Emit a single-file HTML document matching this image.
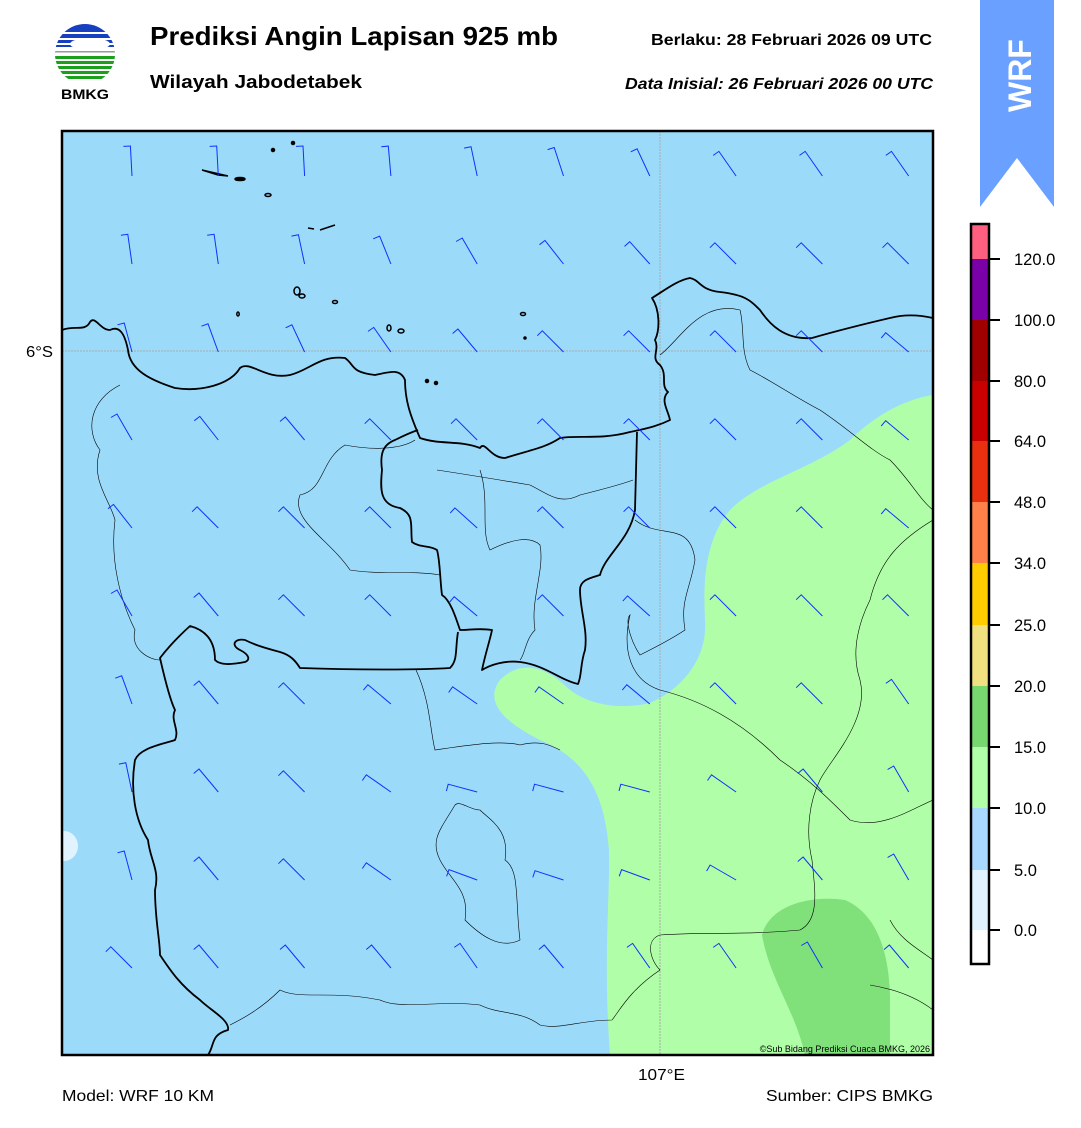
<!DOCTYPE html>
<html><head><meta charset="utf-8"><style>
body{margin:0;background:#fff;width:1081px;height:1128px;overflow:hidden;font-family:"Liberation Sans",Arial,sans-serif}
</style></head><body>
<svg width="1081" height="1128" style="position:absolute;left:0;top:0" xmlns="http://www.w3.org/2000/svg">
<defs><clipPath id="lc"><circle cx="85" cy="54" r="30"/></clipPath>
<clipPath id="mc"><rect x="62" y="131" width="871" height="924"/></clipPath></defs>
<g clip-path="url(#lc)">
<rect x="55" y="24" width="60" height="8" fill="#1740c0"/>
<rect x="55" y="34" width="60" height="4" fill="#1740c0"/>
<rect x="55" y="40" width="60" height="3" fill="#1740c0"/>
<rect x="55" y="45" width="60" height="2" fill="#1740c0"/>
<ellipse cx="90" cy="44" rx="20" ry="6" fill="#fff"/>
<rect x="55" y="51" width="60" height="1.5" fill="#999"/>
<rect x="55" y="56" width="60" height="3" fill="#1aa01a"/>
<rect x="55" y="61" width="60" height="3" fill="#1aa01a"/>
<rect x="55" y="66" width="60" height="3" fill="#1aa01a"/>
<rect x="55" y="71" width="60" height="3" fill="#1aa01a"/>
<rect x="55" y="76" width="60" height="3" fill="#1aa01a"/>
</g>
<text x="61" y="99" font-size="14" font-weight="bold" font-family="Liberation Sans,sans-serif" textLength="48" lengthAdjust="spacingAndGlyphs">BMKG</text>
<polygon points="980,0 1054,0 1054,207 1017,158 980,207" fill="#6aa0ff"/>
<text x="0" y="0" transform="translate(1031,112) rotate(-90)" font-size="32" font-weight="bold" fill="#fff" font-family="Liberation Sans,sans-serif">WRF</text>
<g clip-path="url(#mc)">
<rect x="62" y="131" width="871" height="924" fill="#9cdafa"/>
<path d="M933,395 C900,400 870,420 850,440 C810,470 760,480 730,510 C705,540 703,580 705,620 C708,660 680,690 650,703 C620,710 590,705 570,690 C545,665 520,660 500,680 C485,700 500,720 540,740 C590,760 605,800 609,850 C610,900 603,960 610,1055 L933,1055 Z" fill="#b0ffa8"/>
<path d="M762,935 C770,905 810,895 845,900 C880,915 890,960 890,1000 L890,1055 L805,1055 C795,1010 770,980 762,935 Z" fill="#80e07a"/>
<ellipse cx="64" cy="846" rx="14" ry="15" fill="#e0f3ff"/>
<line x1="62" y1="351" x2="933" y2="351" stroke="#aaa" stroke-width="1" stroke-dasharray="2,1"/>
<line x1="660" y1="131" x2="660" y2="1055" stroke="#aaa" stroke-width="1" stroke-dasharray="2,1"/>
<g fill="none" stroke="#000" stroke-width="0.6">
<path d="M120,385 C90,400 85,430 100,450 C90,480 110,500 115,520 C110,560 120,600 135,630 C130,650 150,660 160,660"/>
<path d="M415,440 C400,450 370,450 345,445 C320,460 325,490 300,495 C290,520 330,540 350,570 C380,575 410,570 440,575"/>
<path d="M437,470 C470,475 500,480 530,485 C550,495 560,505 580,495 C600,490 620,485 633,480"/>
<path d="M480,470 C490,500 480,530 490,550 C510,540 530,535 540,545 C545,570 530,600 535,630 C525,640 525,655 520,660"/>
<path d="M635,520 C660,540 690,520 695,560 C690,590 680,600 685,630 C670,640 650,650 640,655 C630,640 625,620 630,615 C622,650 630,680 660,690 C700,700 740,720 780,760 C810,780 830,800 850,820 C880,830 910,810 933,800"/>
<path d="M416,670 C430,700 430,730 435,750 C470,745 500,740 520,745 C540,740 550,745 560,750"/>
<path d="M455,805 C440,830 430,840 440,860 C450,880 470,890 465,920 C480,935 500,950 520,940 C515,900 520,870 505,860 C510,830 490,820 480,810 C470,810 460,800 455,805 Z"/>
<path d="M660,355 C680,340 700,300 740,310 C745,330 740,350 750,370 C770,380 800,400 820,410 C850,430 870,450 890,460 C910,480 920,500 933,510"/>
<path d="M933,520 C900,540 880,560 870,600 C860,620 850,650 860,680 C870,720 830,760 820,780 C810,800 805,830 812,860 C815,890 820,920 800,930 C750,935 700,932 660,935 C645,940 650,960 660,970 C630,990 620,1010 612,1020 C580,1020 560,1030 540,1025 C520,1010 500,1015 480,1005 C440,1000 400,1010 380,1000 C330,990 300,1000 280,990 C260,1010 240,1020 230,1025"/>
<path d="M890,920 C900,940 920,950 933,960 M870,985 C900,990 920,1000 933,1010"/>
</g>
<g fill="none" stroke="#000" stroke-width="1.8" stroke-linejoin="round">
<path d="M62,330 C75,325 85,332 90,322 C95,315 100,330 110,330 C120,325 125,335 128,350 C130,370 150,380 175,388 C200,392 230,385 240,368 C250,360 265,380 290,375 C310,370 320,355 345,358 C355,365 350,372 375,375 C390,372 400,368 405,380 C405,400 410,415 420,438 C440,445 460,440 480,448 C485,440 490,458 505,458 C530,450 545,448 560,438 C580,435 600,440 630,432 C650,428 660,425 670,420 C668,410 660,400 668,392 C660,385 668,375 660,365 C650,358 660,350 655,340 C660,330 660,310 652,298 C665,290 678,280 690,278 C700,280 700,290 720,292 C745,295 750,300 760,310 C770,325 785,340 812,338 C840,330 860,325 890,318 C905,314 920,315 933,318"/>
<path d="M637,432 L635,510 C630,540 605,555 600,575 C590,578 580,580 580,590 C580,610 588,630 585,650 C580,665 582,675 578,684 C560,680 545,665 520,662 C505,660 490,665 482,670 C485,655 490,640 492,630 C480,628 470,630 460,630 C455,615 450,600 442,595 C440,580 440,560 437,550 C430,545 420,548 412,542 C410,525 415,515 400,508 C380,505 380,490 382,470 C380,455 382,445 395,440 C405,435 412,432 418,430"/>
<path d="M458,632 C455,650 458,660 450,668 C420,670 360,670 300,668 C295,660 290,655 280,652 C265,648 255,645 245,640 C235,638 230,645 240,650 C250,655 250,660 245,662 C230,665 220,665 215,660 C215,640 205,630 190,626 C180,635 170,645 160,658 C165,680 170,700 175,710 C170,720 180,730 175,740 C160,745 140,748 135,760 C130,790 135,820 148,840 C150,860 160,870 155,890 C155,920 160,940 160,955 C170,970 180,985 200,1000 C210,1010 230,1020 228,1030 C210,1035 215,1045 208,1055"/>
</g>
<g fill="#000" stroke="#000" stroke-width="1.5">
<path d="M202,170 L228,176 L218,175 Z"/><ellipse cx="240" cy="179" rx="5" ry="1.5"/>
<circle cx="273" cy="150" r="1.5"/><circle cx="293" cy="143" r="1.5"/>
<ellipse cx="268" cy="195" rx="3" ry="1.5" fill="none"/>
<path d="M320,230 L335,225" /><path d="M308,228 L314,229"/>
<ellipse cx="297" cy="291" rx="3" ry="4" fill="none"/><ellipse cx="302" cy="296" rx="3" ry="2" fill="none"/>
<ellipse cx="335" cy="302" rx="2.5" ry="1.5" fill="none"/><ellipse cx="238" cy="314" rx="1.2" ry="2" fill="none"/>
<ellipse cx="389" cy="328" rx="2" ry="3" fill="none"/><ellipse cx="401" cy="331" rx="3" ry="2" fill="none"/>
<ellipse cx="523" cy="314" rx="2.5" ry="1.5" fill="none"/><circle cx="525" cy="338" r="1"/>
<circle cx="427" cy="381" r="1.5"/><circle cx="436" cy="383" r="1.5"/>
</g>
<g id="barbs" stroke="#1030ff" stroke-width="1" fill="none"></g>
</g>
<rect x="62" y="131" width="871" height="924" fill="none" stroke="#000" stroke-width="2.5"/>
<text x="930" y="1052" font-size="9" text-anchor="end" font-family="Liberation Sans,sans-serif">©Sub Bidang Prediksi Cuaca BMKG, 2026</text>
<g>
<rect x="971" y="224" width="18" height="35" fill="#ff6080"/>
<rect x="971" y="259" width="18" height="61" fill="#7a00a8"/>
<rect x="971" y="320" width="18" height="61" fill="#a00000"/>
<rect x="971" y="381" width="18" height="60" fill="#c80000"/>
<rect x="971" y="441" width="18" height="61" fill="#e83010"/>
<rect x="971" y="502" width="18" height="61" fill="#ff8048"/>
<rect x="971" y="563" width="18" height="62" fill="#ffcc00"/>
<rect x="971" y="625" width="18" height="61" fill="#f0e080"/>
<rect x="971" y="686" width="18" height="61" fill="#78d870"/>
<rect x="971" y="747" width="18" height="61" fill="#b0ffa8"/>
<rect x="971" y="808" width="18" height="62" fill="#a8d8ff"/>
<rect x="971" y="870" width="18" height="60" fill="#e0f2ff"/>
<rect x="971" y="930" width="18" height="34" fill="#fff"/>
<rect x="971" y="224" width="18" height="740" fill="none" stroke="#000" stroke-width="2.5"/>
<g stroke="#000" stroke-width="2">
<line x1="990" y1="259" x2="1000" y2="259"/><line x1="990" y1="320" x2="1000" y2="320"/><line x1="990" y1="381" x2="1000" y2="381"/><line x1="990" y1="441" x2="1000" y2="441"/><line x1="990" y1="502" x2="1000" y2="502"/><line x1="990" y1="563" x2="1000" y2="563"/><line x1="990" y1="625" x2="1000" y2="625"/><line x1="990" y1="686" x2="1000" y2="686"/><line x1="990" y1="747" x2="1000" y2="747"/><line x1="990" y1="808" x2="1000" y2="808"/><line x1="990" y1="870" x2="1000" y2="870"/><line x1="990" y1="930" x2="1000" y2="930"/>
</g>
<g font-size="16.5" font-family="Liberation Sans,sans-serif">
<text x="1014" y="265">120.0</text><text x="1014" y="326">100.0</text><text x="1014" y="387">80.0</text><text x="1014" y="447">64.0</text><text x="1014" y="508">48.0</text><text x="1014" y="569">34.0</text><text x="1014" y="631">25.0</text><text x="1014" y="692">20.0</text><text x="1014" y="753">15.0</text><text x="1014" y="814">10.0</text><text x="1014" y="876">5.0</text><text x="1014" y="936">0.0</text>
</g>
</g>
<g font-family="Liberation Sans,sans-serif" lengthAdjust="spacingAndGlyphs">
<text x="150" y="45" font-size="26" font-weight="bold" textLength="408" lengthAdjust="spacingAndGlyphs">Prediksi Angin Lapisan 925 mb</text>
<text x="150" y="88" font-size="18" font-weight="bold" textLength="212" lengthAdjust="spacingAndGlyphs">Wilayah Jabodetabek</text>
<text x="651" y="45" font-size="16" font-weight="bold" textLength="281" lengthAdjust="spacingAndGlyphs">Berlaku:  28 Februari 2026 09 UTC</text>
<text x="625" y="89" font-size="16" font-weight="bold" font-style="italic" textLength="308" lengthAdjust="spacingAndGlyphs">Data Inisial:  26 Februari 2026 00 UTC</text>
<text x="26" y="357" font-size="16" textLength="27" lengthAdjust="spacingAndGlyphs">6°S</text>
<text x="638" y="1080" font-size="16" textLength="47" lengthAdjust="spacingAndGlyphs">107°E</text>
<text x="62" y="1101" font-size="16" textLength="152" lengthAdjust="spacingAndGlyphs">Model: WRF 10 KM</text>
<text x="766" y="1101" font-size="16" textLength="167" lengthAdjust="spacingAndGlyphs">Sumber: CIPS BMKG</text>
</g>
</svg>
<script>
var A=[
[3,3,3,5,12,18,25,35,35,35],
[8,8,12,22,30,38,42,45,45,45],
[15,20,25,35,40,45,45,45,45,50],
[30,38,40,45,45,45,45,45,45,50],
[38,45,45,45,48,45,45,45,45,50],
[30,40,45,45,50,45,48,45,45,45],
[20,40,45,50,55,55,50,45,45,35],
[12,40,45,55,75,75,75,55,40,30],
[15,40,45,55,70,72,70,60,40,30],
[45,40,40,40,35,40,35,35,30,40]];
var g=document.getElementById('barbs'),s='';
for(var j=0;j<10;j++)for(var i=0;i<10;i++){
var tx=132+86.3*i,ty=176+88*j,t=A[j][i]*Math.PI/180,L=30;
var hx=tx-L*Math.sin(t),hy=ty-L*Math.cos(t);
var bx=hx-7*Math.cos(t),by=hy+7*Math.sin(t);
s+='<path d="M'+tx.toFixed(1)+','+ty.toFixed(1)+' L'+hx.toFixed(1)+','+hy.toFixed(1)+' L'+bx.toFixed(1)+','+by.toFixed(1)+'"/>';}
g.innerHTML=s;
</script>
</body></html>
